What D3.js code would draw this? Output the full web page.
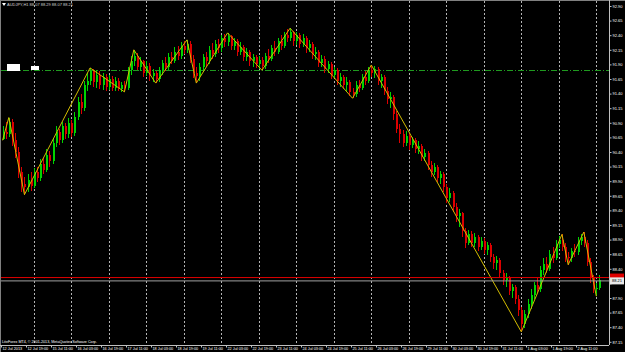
<!DOCTYPE html>
<html>
<head>
<meta charset="utf-8">
<script src="https://cdn.jsdelivr.net/npm/d3@7"></script>
<style>
  body { margin: 0; background: #000; }
  svg { display: block; }
  text { font-family: "Liberation Sans", Arial, sans-serif; }
</style>
</head>
<body>
<script>
const width = 625, height = 352;
const plotRight = 609, plotBottom = 345;

// 2-hour candles, AUDJPY (open = previous close)
const firstOpen = 90.62;
const closes = [
  90.75, 90.70, 90.92, 90.60, 90.40, 90.05, 89.85, 89.80, 89.92, 89.82,
  90.05, 89.95, 90.20, 90.10, 90.35, 90.25, 90.55, 90.75, 90.60, 90.85,
  90.70, 90.90, 90.72, 91.00, 91.25, 91.15, 91.55, 91.62, 91.78, 91.60,
  91.72, 91.55, 91.68, 91.52, 91.65, 91.50, 91.62, 91.48, 91.55, 91.50,
  91.80, 91.95, 92.05, 91.85, 91.95, 91.75, 91.88, 91.70, 91.75, 91.65,
  91.80, 91.92, 91.85, 92.02, 91.95, 92.12, 92.05, 92.22, 92.15, 92.25,
  92.00, 91.75, 91.70, 91.85, 92.02, 91.95, 92.15, 92.08, 92.25, 92.18,
  92.35, 92.28, 92.38, 92.22, 92.30, 92.12, 92.20, 92.02, 92.12, 91.95,
  92.02, 91.90, 91.98, 91.88, 92.05, 92.00, 92.18, 92.12, 92.30, 92.22,
  92.40, 92.35, 92.45, 92.30, 92.40, 92.25, 92.35, 92.18, 92.25, 92.08,
  92.12, 91.92, 92.00, 91.82, 91.90, 91.72, 91.80, 91.62, 91.68, 91.55,
  91.60, 91.42, 91.40, 91.55, 91.50, 91.68, 91.62, 91.80, 91.75, 91.82,
  91.62, 91.68, 91.45, 91.30, 91.35, 91.05, 90.80, 90.70, 90.55, 90.68,
  90.52, 90.60, 90.45, 90.50, 90.32, 90.38, 90.18, 90.05, 90.15, 89.95,
  90.02, 89.80, 89.62, 89.70, 89.45, 89.30, 89.35, 89.05, 88.85, 89.00,
  88.85, 88.95, 88.78, 88.88, 88.72, 88.80, 88.60, 88.50, 88.55, 88.32,
  88.20, 88.25, 88.02, 88.08, 87.88, 87.70, 87.45, 87.62, 87.80, 87.95,
  88.12, 88.05, 88.38, 88.48, 88.40, 88.65, 88.58, 88.82, 88.90, 88.78,
  88.60, 88.58, 88.70, 88.68, 88.88, 88.95, 88.85, 88.52, 88.25, 88.05,
  88.07, 88.21
];
const highs = [
  90.85, 90.92, 90.99, 90.96, 90.72, 90.48, 90.15, 89.98, 90.02, 90.05,
  90.12, 90.15, 90.28, 90.30, 90.45, 90.42, 90.62, 90.85, 90.80, 90.92,
  90.90, 90.98, 90.95, 91.08, 91.35, 91.40, 91.62, 91.76, 91.84, 91.82,
  91.80, 91.78, 91.75, 91.74, 91.72, 91.70, 91.68, 91.66, 91.60, 91.62,
  91.86, 92.05, 92.15, 92.10, 92.02, 91.98, 91.95, 91.92, 91.82, 91.78,
  91.86, 91.98, 92.02, 92.10, 92.12, 92.20, 92.22, 92.28, 92.30, 92.32,
  92.30, 92.06, 91.85, 91.92, 92.08, 92.12, 92.22, 92.26, 92.32, 92.34,
  92.40, 92.42, 92.44, 92.40, 92.36, 92.34, 92.28, 92.24, 92.18, 92.15,
  92.08, 92.06, 92.04, 92.02, 92.10, 92.16, 92.24, 92.30, 92.36, 92.40,
  92.46, 92.50, 92.52, 92.48, 92.45, 92.44, 92.42, 92.38, 92.32, 92.28,
  92.20, 92.15, 92.06, 92.04, 91.96, 91.94, 91.86, 91.84, 91.75, 91.72,
  91.68, 91.64, 91.50, 91.62, 91.64, 91.74, 91.78, 91.86, 91.89, 91.88,
  91.86, 91.74, 91.72, 91.52, 91.42, 91.38, 91.10, 90.88, 90.78, 90.76,
  90.72, 90.66, 90.64, 90.58, 90.54, 90.45, 90.42, 90.24, 90.22, 90.18,
  90.08, 90.05, 89.86, 89.78, 89.74, 89.52, 89.42, 89.38, 89.10, 89.06,
  89.04, 89.02, 88.98, 88.94, 88.92, 88.86, 88.84, 88.66, 88.62, 88.58,
  88.38, 88.32, 88.28, 88.14, 88.12, 87.95, 87.75, 87.70, 87.88, 88.05,
  88.18, 88.24, 88.45, 88.58, 88.60, 88.72, 88.78, 88.90, 88.96, 88.99,
  88.84, 88.68, 88.76, 88.82, 88.94, 89.00, 89.03, 88.90, 88.58, 88.30,
  88.15, 88.29
];
const lows = [
  90.60, 90.62, 90.66, 90.50, 90.30, 89.95, 89.72, 89.67, 89.72, 89.74,
  89.78, 89.88, 89.90, 90.02, 90.05, 90.15, 90.20, 90.48, 90.52, 90.55,
  90.62, 90.64, 90.66, 90.68, 90.95, 91.05, 91.10, 91.45, 91.55, 91.52,
  91.50, 91.48, 91.46, 91.45, 91.46, 91.44, 91.45, 91.44, 91.43, 91.43,
  91.47, 91.72, 91.88, 91.80, 91.78, 91.68, 91.70, 91.62, 91.60, 91.58,
  91.60, 91.72, 91.78, 91.80, 91.90, 91.92, 91.98, 92.00, 92.08, 92.10,
  91.92, 91.66, 91.58, 91.62, 91.80, 91.88, 91.90, 92.00, 92.02, 92.10,
  92.12, 92.20, 92.22, 92.15, 92.14, 92.05, 92.06, 91.95, 91.96, 91.88,
  91.86, 91.84, 91.82, 91.80, 91.82, 91.92, 91.96, 92.05, 92.08, 92.15,
  92.18, 92.28, 92.30, 92.22, 92.24, 92.18, 92.20, 92.10, 92.12, 92.00,
  91.98, 91.85, 91.85, 91.75, 91.76, 91.65, 91.66, 91.55, 91.52, 91.48,
  91.44, 91.36, 91.32, 91.35, 91.42, 91.46, 91.55, 91.58, 91.68, 91.66,
  91.55, 91.50, 91.38, 91.22, 91.15, 90.95, 90.72, 90.55, 90.48, 90.50,
  90.44, 90.46, 90.38, 90.36, 90.25, 90.24, 90.10, 89.98, 90.00, 89.88,
  89.85, 89.72, 89.52, 89.55, 89.38, 89.20, 89.12, 88.95, 88.76, 88.80,
  88.78, 88.78, 88.70, 88.72, 88.65, 88.64, 88.52, 88.40, 88.38, 88.25,
  88.12, 88.08, 87.95, 87.90, 87.80, 87.60, 87.32, 87.38, 87.55, 87.72,
  87.88, 87.98, 88.00, 88.30, 88.32, 88.36, 88.50, 88.55, 88.76, 88.70,
  88.52, 88.47, 88.52, 88.60, 88.64, 88.80, 88.78, 88.45, 88.15, 87.98,
  87.93, 88.03
];

// zigzag pivots (candle index, price)
const zigzagBars = [0, 2, 7, 28, 39, 42, 49, 59, 62, 72, 83, 92, 112, 118, 166, 179, 181, 186, 190];
const zigzagPrices = [90.60, 90.99, 89.67, 91.84, 91.43, 92.15, 91.58, 92.32, 91.58, 92.44,
                      91.80, 92.52, 91.32, 91.89, 87.32, 88.99, 88.47, 89.03, 87.93];

const priceTicks = [92.90, 92.65, 92.40, 92.15, 91.90, 91.65, 91.40, 91.15, 90.90, 90.65, 90.40, 90.15,
                    89.90, 89.65, 89.40, 89.15, 88.90, 88.65, 88.40, 88.15, 87.90, 87.65, 87.40, 87.15];
const timeLabels = ['12 Jul 2013', '12 Jul 19:00', '15 Jul 11:00', '16 Jul 03:00', '16 Jul 19:00',
  '17 Jul 11:00', '18 Jul 03:00', '18 Jul 19:00', '19 Jul 11:00', '22 Jul 03:00', '22 Jul 19:00',
  '23 Jul 11:00', '24 Jul 03:00', '24 Jul 19:00', '25 Jul 11:00', '26 Jul 03:00', '26 Jul 19:00',
  '29 Jul 11:00', '30 Jul 03:00', '30 Jul 19:00', '31 Jul 11:00', '1 Aug 03:00', '1 Aug 19:00', '2 Aug 11:00'];
const levelPrice = 91.80;
const bid = 88.21, ask = 88.25;
const title = 'AUDJPY,H1  88.07 88.29 88.07 88.21';
const footer = 'LiteForex MT4, \u00a9 2001-2013, MetaQuotes Software Corp.';

const n = closes.length;
const x = d3.scaleLinear().domain([0, n]).range([1, 1 + n * 3.125]);
const y = d3.scaleLinear().domain([87.15, 92.90]).range([341.8, 6]);

const candles = closes.map((c, i) => ({
  i: i,
  open: i ? closes[i - 1] : firstOpen,
  close: c,
  high: highs[i],
  low: lows[i],
}));

const svg = d3.select('body').append('svg')
  .attr('width', width)
  .attr('height', height);

svg.append('rect').attr('width', width).attr('height', height).attr('fill', '#000');

// frame
svg.append('line').attr('x1', 0.5).attr('x2', 0.5).attr('y1', 0).attr('y2', height)
  .attr('stroke', '#808080');
svg.append('line').attr('x1', 0).attr('x2', width).attr('y1', 0.5).attr('y2', 0.5)
  .attr('stroke', '#808080');

// day separators
svg.append('g').selectAll('line')
  .data(d3.range(10.5, n, 12))
  .enter().append('line')
  .attr('x1', d => Math.round(x(d)) + 0.5)
  .attr('x2', d => Math.round(x(d)) + 0.5)
  .attr('y1', 1).attr('y2', plotBottom)
  .attr('stroke', '#b4b4b4')
  .attr('stroke-dasharray', '2,2');

// horizontal level
const ly = Math.round(y(levelPrice)) + 0.5;
svg.append('line').attr('x1', 1).attr('x2', plotRight).attr('y1', ly).attr('y2', ly)
  .attr('stroke', '#1f9a1f').attr('stroke-dasharray', '6,2,1,2');
svg.append('rect').attr('x', 7).attr('y', ly - 6.5).attr('width', 13).attr('height', 7).attr('fill', '#fff');
svg.append('rect').attr('x', 31).attr('y', ly - 4.5).attr('width', 8).attr('height', 4).attr('fill', '#fff');

// candles
const g = svg.append('g').attr('shape-rendering', 'crispEdges');
const col = d => d.close >= d.open ? '#00d400' : '#dc0000';
g.selectAll('.wick')
  .data(candles)
  .enter().append('line')
  .attr('class', 'wick')
  .attr('x1', d => Math.round(x(d.i + 0.5)) + 0.5)
  .attr('x2', d => Math.round(x(d.i + 0.5)) + 0.5)
  .attr('y1', d => y(d.high))
  .attr('y2', d => y(d.low))
  .attr('stroke', col);
g.selectAll('.body')
  .data(candles)
  .enter().append('rect')
  .attr('class', 'body')
  .attr('x', d => Math.round(x(d.i + 0.5)))
  .attr('y', d => y(Math.max(d.open, d.close)))
  .attr('width', 2)
  .attr('height', d => Math.max(1, Math.abs(y(d.open) - y(d.close))))
  .attr('fill', col);

// zigzag
const line = d3.line()
  .x(d => x(d + 0.5))
  .y((d, k) => y(zigzagPrices[k]));
svg.append('path')
  .attr('d', line(zigzagBars))
  .attr('fill', 'none')
  .attr('stroke', '#d2bc00')
  .attr('stroke-width', 1);

// bid / ask lines
svg.append('line').attr('x1', 1).attr('x2', plotRight).attr('y1', y(ask)).attr('y2', y(ask))
  .attr('stroke', '#e00000');
svg.append('line').attr('x1', 1).attr('x2', plotRight).attr('y1', y(bid) + 1).attr('y2', y(bid) + 1)
  .attr('stroke', '#a0a0a0');

// axes
svg.append('line').attr('x1', plotRight + 0.5).attr('x2', plotRight + 0.5).attr('y1', 0).attr('y2', plotBottom)
  .attr('stroke', '#c0c0c0');
svg.append('line').attr('x1', 0).attr('x2', plotRight).attr('y1', plotBottom + 0.5).attr('y2', plotBottom + 0.5)
  .attr('stroke', '#c0c0c0');

const yAxis = svg.append('g')
  .attr('transform', 'translate(' + (plotRight + 0.5) + ',0)')
  .call(d3.axisRight(y).tickValues(priceTicks).tickFormat(d3.format('.2f')).tickSize(2).tickPadding(1));
yAxis.select('.domain').remove();
yAxis.selectAll('line').attr('stroke', '#c0c0c0');
yAxis.selectAll('text').attr('fill', '#fff').attr('font-size', '4px');
// the price box covers the label under it
yAxis.selectAll('.tick').filter(d => Math.abs(y(d) - y(bid)) < 6).select('text').remove();

const xAxis = svg.append('g')
  .attr('transform', 'translate(0,' + (plotBottom + 0.5) + ')')
  .call(d3.axisBottom(x).tickValues(d3.range(0, n, 8)).tickFormat((d, k) => timeLabels[k]).tickSize(2).tickPadding(0));
xAxis.select('.domain').remove();
xAxis.selectAll('line').attr('stroke', '#c0c0c0');
xAxis.selectAll('text').attr('fill', '#fff').attr('font-size', '3.8px')
  .attr('text-anchor', 'start').attr('dx', 1).attr('y', 1.5);

// current price boxes
svg.append('rect').attr('x', plotRight + 1).attr('y', y(ask) - 4).attr('width', 14).attr('height', 7)
  .attr('fill', '#e00000');
svg.append('rect').attr('x', plotRight + 1).attr('y', y(bid) - 2.5).attr('width', 14).attr('height', 7)
  .attr('fill', '#e8e8e8');
svg.append('text').attr('x', plotRight + 3).attr('y', y(bid) + 1)
  .attr('dy', '0.35em').attr('font-size', '4px').attr('fill', '#000').text(d3.format('.2f')(bid));

// texts
svg.append('path').attr('d', 'M2,3 L6,3 L4,6 Z').attr('fill', '#fff');
svg.append('text').attr('x', 7).attr('y', 4.5).attr('dy', '0.35em')
  .attr('font-size', '4px').attr('fill', '#d0d0d0').text(title);
svg.append('text').attr('x', 2).attr('y', 342).attr('dy', '0.35em')
  .attr('font-size', '3.7px').attr('fill', '#fff').text(footer);
</script>
</body>
</html>
